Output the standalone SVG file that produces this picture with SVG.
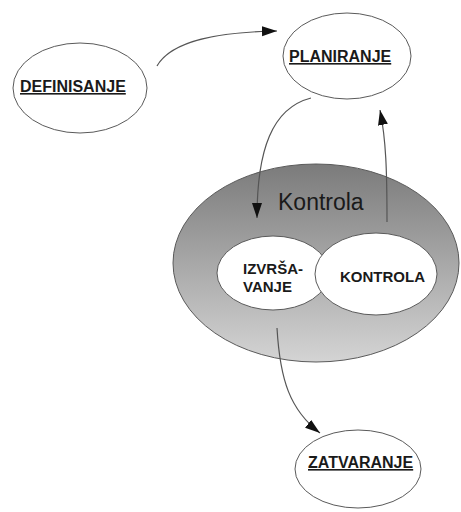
<svg xmlns="http://www.w3.org/2000/svg" width="461" height="512" viewBox="0 0 461 512">
  <style>
    .node { fill: #ffffff; stroke: #5a5a5a; stroke-width: 1; }
    .title { font-family: "Liberation Sans", Arial, sans-serif; font-weight: bold; font-size: 16px; fill: #1a1a1a; text-decoration: underline; }
    .inner { font-family: "Liberation Sans", Arial, sans-serif; font-weight: bold; font-size: 15px; fill: #1a1a1a; }
    .big { font-family: "Liberation Sans", Arial, sans-serif; font-size: 23px; fill: #1a1a1a; }
    .edge { fill: none; stroke: #555555; stroke-width: 1.2; marker-end: url(#head); }
  </style>
  <defs>
    <linearGradient id="shade" x1="0" y1="0" x2="0" y2="1">
      <stop offset="0" stop-color="#7b7b7b"/>
      <stop offset="1" stop-color="#d4d4d4"/>
    </linearGradient>
    <marker id="head" markerUnits="userSpaceOnUse" markerWidth="16" markerHeight="12" refX="15" refY="5" orient="auto">
      <path d="M0,0 L15,5 L0,10 z" fill="#111111"/>
    </marker>
  </defs>

  <rect width="461" height="512" fill="#ffffff"/>

  <!-- shaded control area with its two phases -->
  <g id="kontrola-area">
    <ellipse cx="316" cy="263" rx="143" ry="99" fill="url(#shade)" stroke="#5a5a5a" stroke-width="1"/>
    <text class="big" x="278" y="210">Kontrola</text>
  </g>

  <g id="izvrsavanje">
    <ellipse class="node" cx="273" cy="273" rx="56" ry="37"/>
    <text class="inner" x="243" y="274">IZVRŠA-</text>
    <text class="inner" x="243" y="292">VANJE</text>
  </g>

  <g id="kontrola">
    <ellipse class="node" cx="376" cy="274" rx="61" ry="41"/>
    <text class="inner" x="340" y="282">KONTROLA</text>
  </g>

  <g id="definisanje">
    <ellipse class="node" cx="80" cy="88" rx="67" ry="45"/>
    <text class="title" x="20" y="92">DEFINISANJE</text>
  </g>

  <g id="planiranje">
    <ellipse class="node" cx="347" cy="56" rx="64" ry="43"/>
    <text class="title" x="289" y="62">PLANIRANJE</text>
  </g>

  <g id="zatvaranje">
    <ellipse class="node" cx="358" cy="469" rx="63" ry="39"/>
    <text class="title" x="308" y="468">ZATVARANJE</text>
  </g>

  <g id="connectors">
    <path class="edge" d="M157,66 C172,40 220,32 277,31"/>
    <path class="edge" d="M311,98 C272,108 257,150 257,218"/>
    <path class="edge" d="M387,222 C387,170 386,140 380,110"/>
    <path class="edge" d="M277,328 C280,380 290,410 320,433"/>
  </g>
</svg>
